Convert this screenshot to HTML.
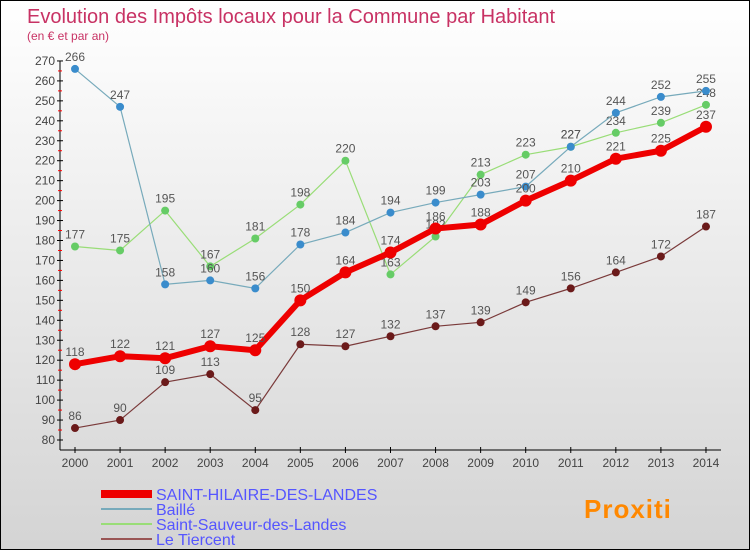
<!DOCTYPE html>
<html><head><meta charset="utf-8"><style>
body{margin:0}
#c{width:748px;height:548px;border:1px solid #000;background:linear-gradient(#fff,#d4d4d4);position:relative;font-family:"Liberation Sans",sans-serif;overflow:hidden}
</style></head><body>
<div id="c">
<svg id="s" width="748" height="548">
<text x="26" y="22" font-size="20" fill="#c83264">Evolution des Impôts locaux pour la Commune par Habitant</text>
<text x="26" y="39" font-size="12" fill="#c83264">(en € et par an)</text>
</svg></div>
<script>
const years=[2000,2001,2002,2003,2004,2005,2006,2007,2008,2009,2010,2011,2012,2013,2014];
const sh=[118,122,121,127,125,150,164,174,186,188,200,210,221,225,237];
const bailleV=[266,247,158,160,156,178,184,194,199,203,207,227,244,252,255];
const ssV=[177,175,195,167,181,198,220,163,182,213,223,227,234,239,248];
const ltV=[86,90,109,113,95,128,127,132,137,139,149,156,164,172,187];
const yTicks=[80,90,100,110,120,130,140,150,160,170,180,190,200,210,220,230,240,250,260,270];
const names=["SAINT-HILAIRE-DES-LANDES","Baillé","Saint-Sauveur-des-Landes","Le Tiercent"];
const NS="http://www.w3.org/2000/svg",s=document.getElementById('s');
const X=i=>74+i*45.07, Y=v=>439-(v-80)*1.995;
function mk(t,a,p){const e=document.createElementNS(NS,t);for(const k in a)e.setAttribute(k,a[k]);(p||s).appendChild(e);return e;}
let ax=mk('line',{x1:59,y1:60,x2:59,y2:449,stroke:'#000'});


let bx=mk('line',{x1:59,y1:449,x2:720,y2:449,stroke:'#000'});


yTicks.forEach(v=>{mk('line',{x1:56,x2:62,y1:Y(v),y2:Y(v),stroke:'#000'});
 if(v<270)mk('line',{x1:57,x2:61,y1:Y(v+5),y2:Y(v+5),stroke:'#f00'});
 const t=mk('text',{x:54,y:Y(v)+4,'font-size':12,'text-anchor':'end',fill:'#444'});t.textContent=v;
 
 });
years.forEach((y,i)=>{mk('line',{x1:X(i),x2:X(i),y1:446,y2:452,stroke:'#000'});
 const t=mk('text',{x:X(i),y:466,'font-size':12,'text-anchor':'middle',fill:'#444'});t.textContent=y;
 
 });
const series=[[ltV,'#6b1a1a','#7a3a3a',1.2,4,'series-le-tiercent'],[ssV,'#6c6','#9d7',1.2,4,'series-saint-sauveur'],[bailleV,'#3a8ccc','#7ab',1.2,4,'series-baille'],[sh,'#e00','#e00',6,6,'series-saint-hilaire']];
series.forEach(([d,pc,lc,w,r,n])=>{const g=mk('g',{});
 
 
 mk('polyline',{points:d.map((v,i)=>X(i)+','+Y(v)).join(' '),fill:'none',stroke:lc,'stroke-width':w},g);
 d.forEach((v,i)=>{const c=mk('circle',{cx:X(i),cy:Y(v),r:r,fill:pc},g);
  
  
  const t=mk('text',{x:X(i),y:Y(v)-8,'font-size':12,'text-anchor':'middle',fill:'#555'},g);t.textContent=v;
  
  });});
const lcol=['#e00','#7ab','#9d7','#955'],lw=[8,2,2,2];
names.forEach((n,i)=>{const yy=493+i*15;
 mk('line',{x1:100,x2:151,y1:yy,y2:yy,stroke:lcol[i],'stroke-width':lw[i]});
 const t=mk('text',{x:155,y:yy+6,'font-size':16,fill:'#55f'});t.textContent=n;
 
 });
const p=mk('text',{x:583,y:517,'font-size':26,'font-weight':'bold',fill:'#f80','letter-spacing':'1'});p.textContent='Proxiti';


</script></body></html>
